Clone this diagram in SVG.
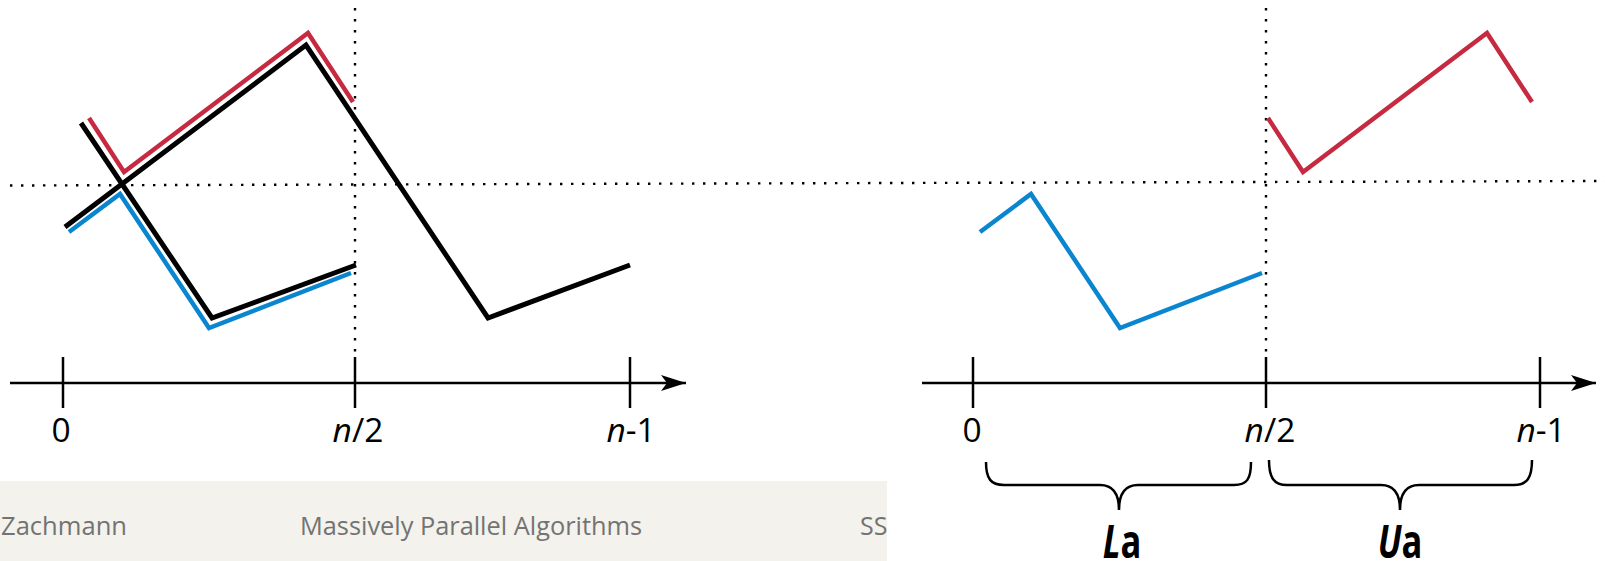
<svg xmlns="http://www.w3.org/2000/svg" width="1605" height="561" viewBox="0 0 1605 561">
<style>
.dot{fill:none;stroke:#000;stroke-width:2.4;stroke-dasharray:2.4 8.6}
.ax{fill:none;stroke:#000;stroke-width:2.5}
.tk{fill:none;stroke:#000;stroke-width:2.5}
.blk{fill:none;stroke:#000;stroke-width:5;stroke-linejoin:miter;stroke-linecap:butt}
.red{fill:none;stroke:#c62a40;stroke-width:4.5;stroke-linejoin:miter;stroke-linecap:butt}
.blu{fill:none;stroke:#0a85cf;stroke-width:4.5;stroke-linejoin:miter;stroke-linecap:butt}
.lbl{font-family:"Open Sans","Liberation Sans",sans-serif;font-size:33.5px;fill:#000;text-anchor:middle}
.big{font-family:"Open Sans","Liberation Sans",sans-serif;font-size:46px;font-weight:bold;fill:#000;text-anchor:middle}
.brace{fill:none;stroke:#000;stroke-width:2.5}
.foot{font-family:"Open Sans","Liberation Sans",sans-serif;font-size:25px;fill:#737373}
</style>
<defs>
<marker id="arr" markerUnits="userSpaceOnUse" markerWidth="30" markerHeight="20" refX="25" refY="8" orient="auto" viewBox="0 0 30 20">
<path d="M0,0 L25,8 L0,16 L6,8 Z" fill="#000"/>
</marker>
<clipPath id="fclip"><rect x="0" y="481" width="887" height="80"/></clipPath>
</defs>
<g id="footer">
<rect x="0" y="481" width="887" height="80" fill="#f3f2ec"/>
<g clip-path="url(#fclip)">
<text class="foot" x="1" y="535" textLength="126" lengthAdjust="spacingAndGlyphs">Zachmann</text>
<text class="foot" x="300" y="535" textLength="342" lengthAdjust="spacingAndGlyphs">Massively Parallel Algorithms</text>
<text class="foot" x="860" y="535">SS</text>
</g>
</g>
<g id="guides">
<line class="dot" x1="10" y1="185.5" x2="1605" y2="181"/>
<line class="dot" x1="355" y1="8" x2="355" y2="356"/>
<line class="dot" x1="1266" y1="8" x2="1266" y2="356"/>
</g>
<g id="left-axis">
<line class="ax" x1="10" y1="383" x2="686" y2="383" marker-end="url(#arr)"/>
<line class="tk" x1="63" y1="357" x2="63" y2="408"/>
<line class="tk" x1="355" y1="357" x2="355" y2="408"/>
<line class="tk" x1="630" y1="357" x2="630" y2="408"/>
<text class="lbl" x="61" y="442">0</text>
<text class="lbl" x="358" y="442"><tspan font-style="italic">n</tspan>/2</text>
<text class="lbl" x="631" y="442"><tspan font-style="italic">n</tspan>-1</text>
</g>
<g id="right-axis">
<line class="ax" x1="922" y1="383" x2="1596" y2="383" marker-end="url(#arr)"/>
<line class="tk" x1="973" y1="357" x2="973" y2="408"/>
<line class="tk" x1="1266" y1="357" x2="1266" y2="408"/>
<line class="tk" x1="1540" y1="357" x2="1540" y2="408"/>
<text class="lbl" x="972" y="442">0</text>
<text class="lbl" x="1270" y="442"><tspan font-style="italic">n</tspan>/2</text>
<text class="lbl" x="1541" y="442"><tspan font-style="italic">n</tspan>-1</text>
</g>
<g id="left-curves">
<polyline class="red" points="89,118 124,172 308,33 353,102"/>
<polyline class="blu" points="69,232 120,194 209,328 351,273"/>
<polyline class="blk" points="65,227 306,45 488,318 630,265"/>
<polyline class="blk" points="81,123 212,318 356,265"/>
</g>
<g id="right-curves">
<polyline class="blu" points="980,232 1031,194 1120,328 1262,273"/>
<polyline class="red" points="1268,118 1303,172 1487,33 1532,102"/>
</g>
<g id="brace-La">
<path class="brace" d="M986,462 C986,479 991,485 1004,485 L1100,485 C1113,485 1119,493 1119,510 C1119,493 1125,485 1138,485 L1234,485 C1247,485 1251,479 1251,462"/>
<text class="big" transform="translate(1122,558) scale(0.75,1)"><tspan font-style="italic">L</tspan>a</text>
</g>
<g id="brace-Ua">
<path class="brace" d="M1269,460 C1269,478 1274,485 1287,485 L1381,485 C1394,485 1400,493 1400,510 C1400,493 1406,485 1419,485 L1514,485 C1527,485 1532,478 1532,460"/>
<text class="big" transform="translate(1400,558) scale(0.75,1)"><tspan font-style="italic">U</tspan>a</text>
</g>
</svg>
